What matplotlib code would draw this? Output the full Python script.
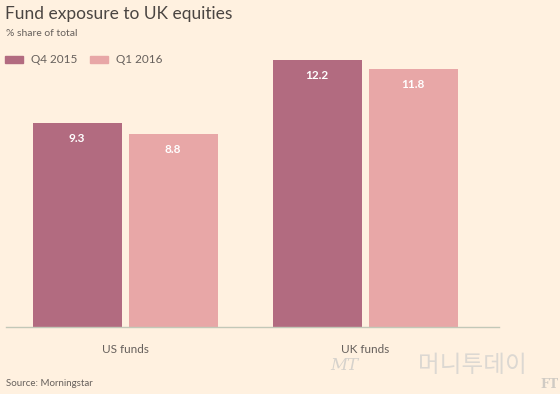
import matplotlib.pyplot as plt
import numpy as np

# data
groups = ['US funds', 'UK funds']
series = ['Q4 2015', 'Q1 2016']
q4_2015 = [9.3, 12.2]
q1_2016 = [8.8, 11.8]
colors = ['#b26b80', '#e8a7a7']
bg = '#fff1e0'

fig = plt.figure(figsize=(5.6, 3.94), dpi=100)
fig.patch.set_facecolor(bg)
ax = fig.add_axes([6/560, 67/394, 493/560, 284.5/394])
ax.set_facecolor(bg)

x = np.arange(len(groups))
w = 0.371
off = 0.2
for vals, c, d in [(q4_2015, colors[0], -off), (q1_2016, colors[1], off)]:
    bars = ax.bar(x + d, vals, width=w, color=c)
    for b, v in zip(bars, vals):
        ax.text(b.get_x() + b.get_width()/2, v - 0.7, f'{v}', ha='center', va='center',
                color='white', fontsize=8.5, fontweight='bold', family='Lato')

ax.set_xlim(-0.496, 1.558)
ax.set_ylim(0, 13)
for s in ['top', 'right', 'left']:
    ax.spines[s].set_visible(False)
ax.spines['bottom'].set_color('#c2c8b8')
ax.spines['bottom'].set_linewidth(1)
ax.set_yticks([])
ax.set_xticks(x)
ax.set_xticklabels(groups, fontsize=8.5, color='#66605c', family='Lato')
ax.tick_params(axis='x', length=0, pad=12)

# titles
fig.text(5/560, 1 - 14/394, 'Fund exposure to UK equities', fontsize=12.5, color='#4a4542',
         family='Lato', va='center')
fig.text(6/560, 1 - 33/394, '% share of total', fontsize=7.5, color='#66605c',
         family='Lato', va='center')

# legend
for i, (lab, c) in enumerate(zip(series, colors)):
    x0 = [5, 90][i]
    fig.patches.append(plt.Rectangle((x0/560, 1 - 63/394), 18/560, 7/394,
                                     transform=fig.transFigure, color=c, figure=fig))
    fig.text((x0 + 26)/560, 1 - 59.5/394, lab, fontsize=8.5, color='#66605c',
             family='Lato', va='center')

fig.text(6/560, 1 - 383/394, 'Source: Morningstar', fontsize=7, color='#66605c',
         family='Lato', va='center')

# watermark
fig.text(330/560, 1 - 366/394, 'MT', fontsize=12, color='#d6d2cc', style='italic',
         family='DejaVu Serif', va='center')
fig.text(418/560, 1 - 366/394, '머니투데이', fontsize=17, color='#dcd8d2',
         family=['Noto Sans CJK KR', 'DejaVu Sans'], va='center')
fig.text(540/560, 1 - 384/394, 'FT', fontsize=9, color='#d0cbc4', family='DejaVu Serif',
         va='center', fontweight='bold')

plt.savefig('out.png', dpi=100, facecolor=bg)
